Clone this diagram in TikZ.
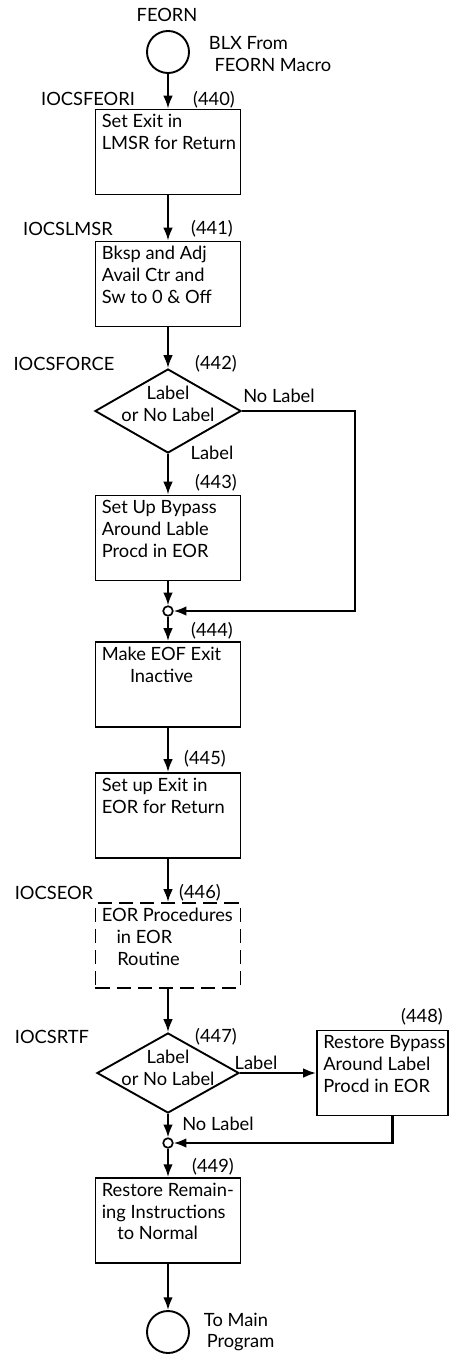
\documentclass[tikz,border=0pt]{standalone}
\usepackage{fontspec}
\setmainfont{Lato}
\usetikzlibrary{arrows.meta,positioning,shapes.geometric}

\begin{document}
\begin{tikzpicture}[x=0.025cm,y=-0.025cm,>={Latex[length=3.2mm,width=2.4mm]},
 font=\fontsize{13}{15.5}\selectfont,
 box/.style={draw,line width=1.35pt,minimum width=3.625cm,minimum height=2.125cm,inner sep=0pt},
 btext/.style={anchor=north west,align=left,inner xsep=5pt,inner ysep=4pt},
 decision/.style={diamond,draw,line width=1.35pt,minimum width=3.65cm,minimum height=2.1cm,inner sep=0pt},
 term/.style={circle,draw,line width=1.35pt,minimum size=1.05cm,inner sep=0pt},
 jn/.style={circle,draw,line width=1.2pt,fill=white,minimum size=0.24cm,inner sep=0pt},
 flow/.style={->,line width=1.45pt}]
\useasboundingbox (0,0) rectangle (452,1354);
% entry
\node[term] (start) at (168,52) {};
\node (feorn) at (167,15) {FEORN};
\node[anchor=west,align=left] (blx) at (204,54) {BLX From\\\hspace*{4pt}FEORN Macro};
% 440
\node[box] (b440) at (168,152) {};
\node[btext] (t440) at (b440.north west) {Set Exit in\\LMSR for Return};
\node (n440) at (214,100) {(440)};
\node (l440) at (88,99) {IOCSFEORI};
% 441
\node[box] (b441) at (168,284) {};
\node[btext] (t441) at (b441.north west) {Bksp and Adj\\Avail Ctr and\\Sw to 0 \& Off};
\node (n441) at (212,229) {(441)};
\node (l441) at (68,229) {IOCSLMSR};
% 442
\node[decision] (d442) at (168,411) {};
\node[align=center] (q442) at ([yshift=0.17cm]d442) {Label\\or No Label};
\node (n442) at (216,364) {(442)};
\node (l442) at (64,364) {IOCSFORCE};
\node (no442) at (279,396) {No Label};
\node (yes442) at (212,453) {Label};
% 443
\node[box] (b443) at (168,538) {};
\node[btext] (t443) at (b443.north west) {Set Up Bypass\\Around Lable\\Procd in EOR};
\node (n443) at (216,483) {(443)};
\node[jn] (j1) at (168,611) {};
% 444
\node[box] (b444) at (168,684.5) {};
\node[btext,align=center] (t444) at (b444.north west) {Make EOF Exit\\Inactive};
\node (n444) at (212,631) {(444)};
% 445
\node[box] (b445) at (168,815.5) {};
\node[btext] (t445) at (b445.north west) {Set up Exit in\\EOR for Return};
\node (n445) at (205,759) {(445)};
% 446
\node[box,dash pattern=on 10pt off 5pt] (b446) at (168,945.5) {};
\node[btext] (t446) at (b446.north west) {EOR Procedures\\\hspace*{10.5pt}in EOR\\\hspace*{11pt}Routine};
\node (n446) at (200,893) {(446)};
\node (l446) at (54,893) {IOCSEOR};
% 447
\node[decision,minimum width=3.55cm,minimum height=2cm] (d447) at (168,1073) {};
\node[align=center] (q447) at ([yshift=0.12cm]d447) {Label\\or No Label};
\node (n447) at (216,1037) {(447)};
\node (l447) at (52,1037) {IOCSRTF};
\node (yes447) at (256,1063) {Label};
\node (no447) at (218,1124) {No Label};
% 448
\node[box,minimum width=3.275cm] (b448) at (382.5,1073) {};
\node[btext] (t448) at (b448.north west) {Restore Bypass\\Around Label\\Procd in EOR};
\node (n448) at (422,1017) {(448)};
\node[jn] (j2) at (168,1143) {};
% 449
\node[box] (b449) at (168,1220.5) {};
\node[btext] (t449) at (b449.north west) {Restore Remain-\\ing Instructions\\\hspace*{11pt}to Normal};
\node (n449) at (213,1167) {(449)};
% exit
\node[term] (stop) at (168,1332) {};
\node[anchor=west,align=left] (tomain) at (199,1332) {To Main\\\hspace*{2pt}Program};

\draw[flow] (start) -- (b440);
\draw[flow] (b440) -- (b441);
\draw[flow] (b441) -- (d442);
\draw[flow] (d442) -- (b443);
\draw[flow] (d442.east) -- ++(113,0) |- (j1);
\draw[flow] (b443) -- (j1);
\draw[flow] (j1) -- (b444);
\draw[flow] (b444) -- (b445);
\draw[flow] (b445) -- (b446);
\draw[flow] (b446) -- (d447);
\draw[flow] (d447) -- (b448);
\draw[flow] (d447) -- (j2);
\draw[flow] ([xshift=0.25cm]b448.south) |- (j2);
\draw[flow] (j2) -- (b449);
\draw[flow] (b449) -- (stop);
\end{tikzpicture}
\end{document}
